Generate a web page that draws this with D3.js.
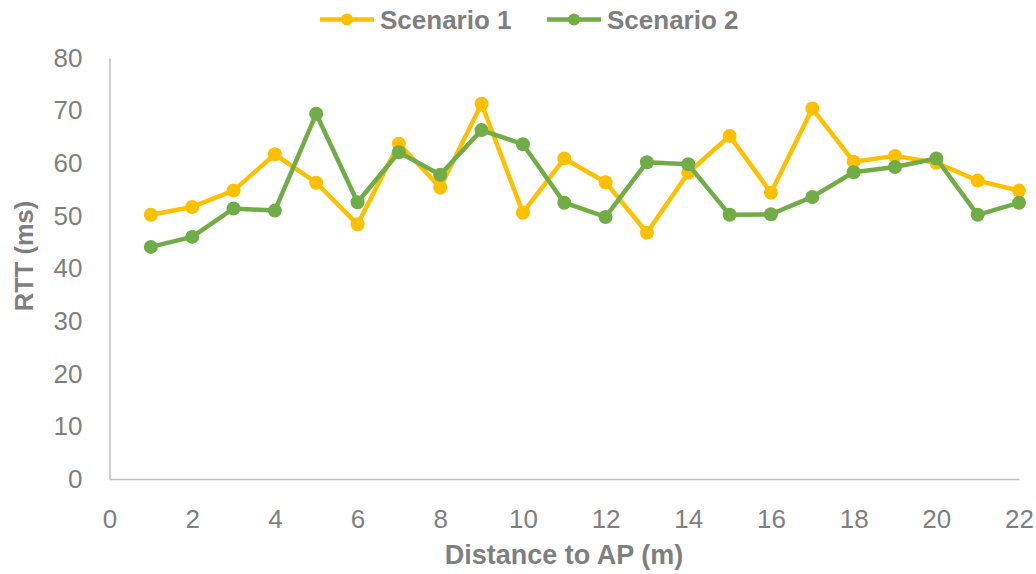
<!DOCTYPE html>
<html>
<head>
<meta charset="utf-8">
<script src="https://cdn.jsdelivr.net/npm/d3@7"></script>
<style>
  html, body { margin: 0; padding: 0; background: #ffffff; }
  svg { display: block; font-family: "Liberation Sans", Arial, sans-serif; }
</style>
</head>
<body>
<svg id="chart" width="1036" height="574"></svg>
<script>
// Distance to access point (m)
const distances = [1, 2, 3, 4, 5, 6, 7, 8, 9, 10, 11, 12, 13, 14, 15, 16, 17, 18, 19, 20, 21, 22];
// Round-trip time (ms) per scenario
const scenario1 = [50.2, 51.7, 54.8, 61.7, 56.3, 48.4, 63.7, 55.4, 71.3, 50.6, 60.9, 56.4, 46.8, 58.2, 65.2, 54.4, 70.4, 60.3, 61.4, 60.1, 56.7, 54.8];
const scenario2 = [44.1, 46.0, 51.4, 51.0, 69.4, 52.6, 62.1, 57.8, 66.3, 63.6, 52.5, 49.8, 60.2, 59.8, 50.2, 50.3, 53.6, 58.3, 59.3, 60.9, 50.2, 52.5];
const seriesNames = ["Scenario 1", "Scenario 2"];
const seriesColors = ["#FFC000", "#70AD47"];
const xTicks = [0, 2, 4, 6, 8, 10, 12, 14, 16, 18, 20, 22];
const yTicks = [0, 10, 20, 30, 40, 50, 60, 70, 80];

const svg = d3.select("#chart");
const plot = { left: 109.5, right: 1019, top: 58, bottom: 479 };
const gray = "#7f7f7f";

const x = d3.scaleLinear().domain([0, 22]).range([plot.left, plot.right]);
const y = d3.scaleLinear().domain([0, 80]).range([plot.bottom, plot.top]);

// Axes
const yAxis = svg.append("g")
  .attr("transform", `translate(${plot.left},0)`)
  .call(d3.axisLeft(y).tickValues(yTicks).tickSize(0).tickSizeOuter(0).tickPadding(27));
const xAxis = svg.append("g")
  .attr("transform", `translate(0,${plot.bottom})`)
  .call(d3.axisBottom(x).tickValues(xTicks).tickSize(0).tickSizeOuter(0).tickPadding(31));

[yAxis, xAxis].forEach(g => {
  g.select(".domain").attr("stroke", "#bfbfbf").attr("stroke-width", 1.5);
  g.selectAll("text")
    .attr("fill", gray)
    .style("font-size", "26px")
    .style("font-family", "'Liberation Sans', Arial, sans-serif");
});

// Axis titles
svg.append("text")
  .attr("x", 564).attr("y", 564)
  .attr("text-anchor", "middle")
  .attr("fill", gray)
  .style("font-size", "27px").style("font-weight", "bold")
  .text("Distance to AP (m)");

svg.append("text")
  .attr("transform", "translate(33,256) rotate(-90)")
  .attr("text-anchor", "middle")
  .attr("fill", gray)
  .style("font-size", "25.5px").style("font-weight", "bold")
  .text("RTT (ms)");

// Series
const data = [scenario1, scenario2];
const line = d3.line()
  .x((d, i) => x(distances[i]))
  .y(d => y(d));

data.forEach((vals, s) => {
  const g = svg.append("g");
  g.append("path")
    .datum(vals)
    .attr("fill", "none")
    .attr("stroke", seriesColors[s])
    .attr("stroke-width", 4.5)
    .attr("stroke-linejoin", "round")
    .attr("d", line);
  g.selectAll("circle")
    .data(vals)
    .join("circle")
    .attr("cx", (d, i) => x(distances[i]))
    .attr("cy", d => y(d))
    .attr("r", 7)
    .attr("fill", seriesColors[s]);
});

// Legend
const legendX = [320, 547];
seriesNames.forEach((name, s) => {
  const g = svg.append("g").attr("transform", `translate(${legendX[s]},19.5)`);
  g.append("line")
    .attr("x1", 0).attr("x2", 54)
    .attr("stroke", seriesColors[s]).attr("stroke-width", 4.5);
  g.append("circle")
    .attr("cx", 27).attr("r", 6)
    .attr("fill", seriesColors[s]);
  g.append("text")
    .attr("x", 60).attr("y", 9.5)
    .attr("fill", gray)
    .style("font-size", "26px").style("font-weight", "bold")
    .text(name);
});
</script>
</body>
</html>
